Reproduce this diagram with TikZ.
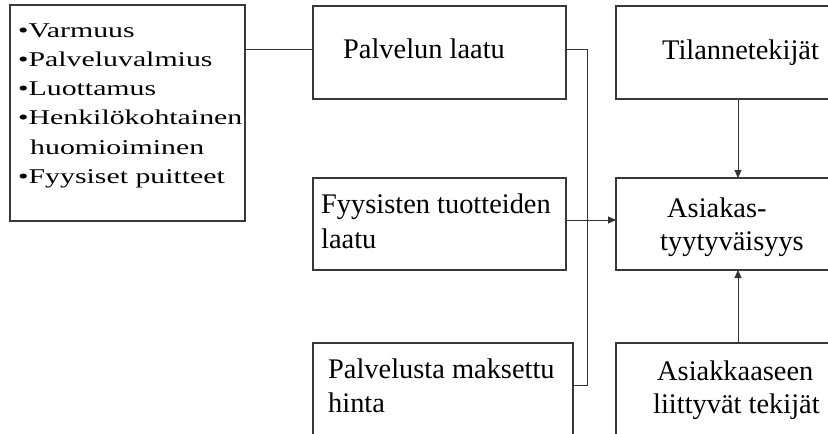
\documentclass[tikz,border=0pt]{standalone}
\usepackage{fontspec}
\setmainfont{Liberation Serif}
\newfontfamily\listfont{Liberation Serif}[FakeStretch=1.42]
\usetikzlibrary{arrows.meta}
\begin{document}
\begin{tikzpicture}[x=1pt,y=-1pt,
  box/.style={draw=black!78, line width=1.3pt, inner sep=0pt, outer sep=0pt, anchor=north west},
  txt/.style={inner sep=0pt, anchor=base west, font=\fontsize{28.4}{35}\selectfont},
  item/.style={inner sep=0pt, anchor=base west, font=\listfont\fontsize{21}{29}\selectfont},
  wire/.style={draw=black!80, line width=1pt},
  arrow/.style={wire, -{Triangle[length=8pt,width=7pt]}}]
  \useasboundingbox (0,0) rectangle (828,434);
  \clip (0,0) rectangle (828,434);

  % boxes
  \node[box, minimum width=235, minimum height=216] (list) at (10,5) {};
  \node[box, minimum width=253, minimum height=93]  (pl)   at (313,6) {};
  \node[box, minimum width=253, minimum height=92]  (ft)   at (313,178) {};
  \node[box, minimum width=260, minimum height=120] (pm)   at (313,343) {};
  \node[box, minimum width=240, minimum height=93]  (ti)   at (616,6) {};
  \node[box, minimum width=240, minimum height=92]  (at)   at (616,178) {};
  \node[box, minimum width=240, minimum height=120] (ak)   at (616,343) {};

  % list of service quality dimensions
  \node[item] (i1) at (18,37)    {•Varmuus};
  \node[item] (i2) at (18,66.3)  {•Palveluvalmius};
  \node[item] (i3) at (18,95.6)  {•Luottamus};
  \node[item] (i4) at (18,124.9) {•Henkilökohtainen};
  \node[item] (i5) at (30,154.2) {huomioiminen};
  \node[item] (i6) at (18,183.5) {•Fyysiset puitteet};

  % box texts
  \node[txt] (pl-t)  at (343,58)  {Palvelun laatu};
  \node[txt] (ft-t1) at (321,213) {Fyysisten tuotteiden};
  \node[txt] (ft-t2) at (321,248) {laatu};
  \node[txt] (pm-t1) at (328,378) {Palvelusta maksettu};
  \node[txt] (pm-t2) at (328,412) {hinta};
  \node[txt] (ti-t)  at (662,59)  {Tilannetekijät};
  \node[txt] (at-t1) at (667,217) {Asiakas-};
  \node[txt] (at-t2) at (660,250) {tyytyväisyys};
  \node[txt] (ak-t1) at (657,380) {Asiakkaaseen};
  \node[txt] (ak-t2) at (653,413) {liittyvät tekijät};

  % connectors
  \coordinate (busT) at (587,49);
  \coordinate (busB) at (587,385);
  \coordinate (mid)  at (0,220);
  \coordinate (col)  at (738,0);
  \draw[wire] (list.east |- busT) -- (pl.west |- busT);
  \draw[wire] (pl.east |- busT) -- (busT) -- (busB) -- (pm.east |- busB);
  \draw[arrow] (ft.east |- mid) -- (at.west |- mid);
  \draw[arrow] (ti.south -| col) -- (at.north -| col);
  \draw[arrow] (ak.north -| col) -- (at.south -| col);
\end{tikzpicture}
\end{document}
